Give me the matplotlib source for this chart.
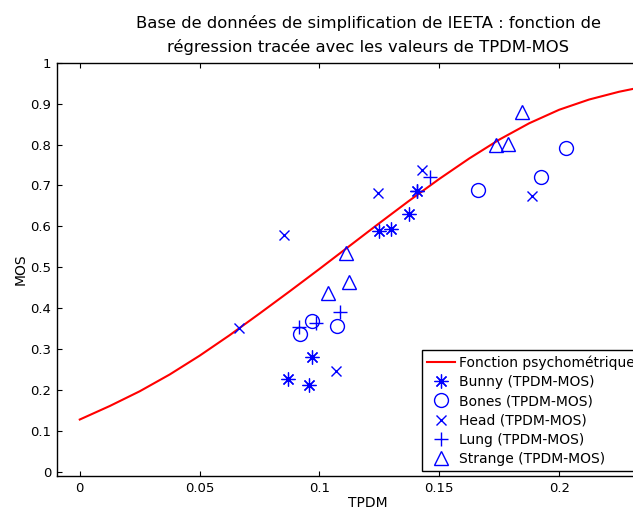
import numpy as np
import matplotlib
matplotlib.use("Agg")
import matplotlib.pyplot as plt

# courbe de regression
courbe_x = [0, 0.0125, 0.025, 0.0375, 0.05, 0.0625, 0.075, 0.0875, 0.1, 0.1125,
            0.125, 0.1375, 0.15, 0.1625, 0.175, 0.1875, 0.2, 0.2125, 0.225, 0.2375, 0.25]
courbe_y = [0.128, 0.161, 0.197, 0.238, 0.284, 0.334, 0.387, 0.441, 0.496, 0.552,
            0.608, 0.663, 0.716, 0.766, 0.812, 0.852, 0.885, 0.910, 0.929, 0.944, 0.956]

bunny_x = [0.0868, 0.0958, 0.097, 0.1247, 0.130, 0.1375, 0.1405]
bunny_y = [0.226, 0.212, 0.281, 0.589, 0.594, 0.630, 0.686]

bones_x = [0.092, 0.0967, 0.1075, 0.166, 0.1925, 0.203]
bones_y = [0.338, 0.368, 0.357, 0.689, 0.720, 0.791]

head_x = [0.0664, 0.0854, 0.107, 0.1245, 0.1428, 0.1886]
head_y = [0.351, 0.580, 0.246, 0.681, 0.739, 0.674]

lung_x = [0.0914, 0.0986, 0.1086, 0.1405, 0.1463]
lung_y = [0.355, 0.364, 0.391, 0.686, 0.721]

strange_x = [0.1037, 0.111, 0.1124, 0.1736, 0.1788, 0.1845]
strange_y = [0.436, 0.535, 0.465, 0.800, 0.801, 0.879]

x_ticks = [0, 0.05, 0.1, 0.15, 0.2, 0.25]
y_ticks = [0, 0.1, 0.2, 0.3, 0.4, 0.5, 0.6, 0.7, 0.8, 0.9, 1]

fig = plt.figure(figsize=(6.33, 5.09), dpi=100)
ax = fig.add_axes([57 / 633, 33 / 509, 622 / 633, 413.3 / 509])

ax.plot(courbe_x, courbe_y, color="red", lw=1.5, label="Fonction psychométrique")
ax.plot(bunny_x, bunny_y, ls="none", marker=(8, 2, 0), ms=10, mec="blue", mfc="none",
        mew=0.9, label="Bunny (TPDM-MOS)")
ax.plot(bones_x, bones_y, ls="none", marker="o", ms=10, mec="blue", mfc="none",
        mew=1.0, label="Bones (TPDM-MOS)")
ax.plot(head_x, head_y, ls="none", marker="x", ms=7.5, mec="blue", mfc="none",
        mew=1.0, label="Head (TPDM-MOS)")
ax.plot(lung_x, lung_y, ls="none", marker="+", ms=10, mec="blue", mfc="none",
        mew=1.0, label="Lung (TPDM-MOS)")
ax.plot(strange_x, strange_y, ls="none", marker="^", ms=10.5, mec="blue", mfc="none",
        mew=1.0, label="Strange (TPDM-MOS)")

ax.set_xlim(-0.0095, 0.2497)
ax.set_ylim(-0.01, 1)
ax.set_xticks(x_ticks)
ax.set_xticklabels(["0", "0.05", "0.1", "0.15", "0.2", "0.25"])
ax.set_yticks(y_ticks)
ax.set_yticklabels(["0", "0.1", "0.2", "0.3", "0.4", "0.5", "0.6", "0.7", "0.8", "0.9", "1"])
ax.tick_params(direction="in", length=3.5, width=0.8, labelsize=9.5, top=True, right=True, pad=4)
for s in ax.spines.values():
    s.set_linewidth(1.0)

ax.set_xlabel("TPDM", fontsize=10, labelpad=1)
ax.set_ylabel("MOS", fontsize=10, labelpad=2)
ax.set_title("Base de données de simplification de IEETA : fonction de\n"
             "régression tracée avec les valeurs de TPDM-MOS",
             fontsize=11.8, linespacing=1.6, pad=8)

leg = ax.legend(loc="lower left", bbox_to_anchor=(0.587, 0.012), fontsize=10,
                fancybox=False, edgecolor="black", framealpha=1, handlelength=2.0,
                handletextpad=0.3, labelspacing=0.38, borderpad=0.35, borderaxespad=0)
leg.get_frame().set_linewidth(1.0)

fig.savefig("out.png", dpi=100)
